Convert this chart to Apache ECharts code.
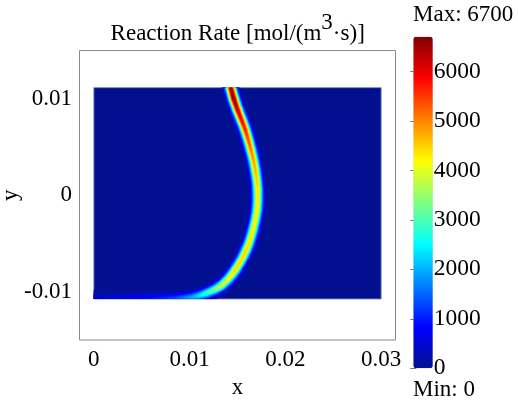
<!DOCTYPE html>
<html><head><meta charset="utf-8">
<script src="https://cdn.jsdelivr.net/npm/echarts@6/dist/echarts.min.js"></script>
<style>html,body{margin:0;padding:0;background:#fff}#c{width:518px;height:402px}</style>
</head><body><div id="c"></div>
<script>
// ---------------- data ----------------
const domainX = [0, 0.03];
const domainY = [-0.01075, 0.01115];
// flame front centre line (top -> bottom, then along the lower wall)
const frontX = [0.01425, 0.01430, 0.01461, 0.01501, 0.01581, 0.01641, 0.01686, 0.01710, 0.01704, 0.01662, 0.01592, 0.01477, 0.01338, 0.01181, 0.01038, 0.0085, 0.0060, 0.0030, 0.0000];
const frontY = [0.0116, 0.01115, 0.0100, 0.00885, 0.00678, 0.00470, 0.00263, 0.00055, -0.00152, -0.00359, -0.00567, -0.00774, -0.00930, -0.01013, -0.01054, -0.0107, -0.0107, -0.0107, -0.0107];
const frontRate = [6500, 6500, 6700, 6300, 5700, 5100, 4700, 4400, 4300, 4300, 4500, 4500, 3900, 2900, 2000, 1300, 900, 600, 400];
const rateRange = [0, 6700];
const xTickValues = [0, 0.01, 0.02, 0.03];
const xTickLabels = ['0', '0.01', '0.02', '0.03'];
const yTickValues = [-0.01, 0, 0.01];
const yTickLabels = ['-0.01', '0', '0.01'];
const cbTickValues = [0, 1000, 2000, 3000, 4000, 5000, 6000];
const titleParts = ['Reaction Rate [mol/(m', '3', '·s)]'];
const axisNames = ['x', 'y'];
const cbTexts = ['Max: ' + rateRange[1], 'Min: ' + rateRange[0]];

// ---------------- styling ----------------
const jetColors = ['#02108f', '#0000ff', '#0080ff', '#00ffff', '#80ff80', '#ffff00', '#ff8000', '#ff0000', '#800000'];
const FONT = 'Liberation Serif';
const SIGMA = 3.5; // px, thickness scale of the flame band
const levels = [0.03, 0.07, 0.12, 0.18, 0.25, 0.32, 0.40, 0.48, 0.56, 0.64, 0.72, 0.80, 0.87, 0.93, 0.98];

function hexToRgb(h) { return [parseInt(h.substr(1, 2), 16), parseInt(h.substr(3, 2), 16), parseInt(h.substr(5, 2), 16)]; }
const jetRgb = jetColors.map(hexToRgb);
function jet(v) {
  let t = (v - rateRange[0]) / (rateRange[1] - rateRange[0]);
  t = Math.max(0, Math.min(1, t));
  const n = jetRgb.length - 1;
  const p = t * n; let i = Math.floor(p); if (i >= n) i = n - 1;
  const u = p - i;
  const a = jetRgb[i], b = jetRgb[i + 1];
  return 'rgb(' + [0, 1, 2].map(k => Math.round(a[k] + (b[k] - a[k]) * u)).join(',') + ')';
}

const frontData = frontX.map((x, i) => [x, frontY[i], frontRate[i]]);

function clipRect(api) {
  const tl = api.coord([domainX[0], domainY[1]]);
  const br = api.coord([domainX[1], domainY[0]]);
  return { x: tl[0], y: tl[1], width: br[0] - tl[0], height: br[1] - tl[1] };
}

function layerSeries(k) {
  const f = levels[k];
  const g = k < levels.length - 1 ? (levels[k] + levels[k + 1]) / 2 : 0.995;
  const w = 2 * SIGMA * Math.sqrt(2 * Math.log(1 / f));
  return {
    type: 'custom', silent: true, animation: false, clip: false,
    xAxisIndex: 0, yAxisIndex: 0,
    encode: { x: 0, y: 1 },
    data: frontData,
    renderItem: function (params, api) {
      const i = params.dataIndexInside;
      const n = params.dataInsideLength;
      if (i >= n - 1) return null;
      const pt = j => api.coord([api.value(0, j), api.value(1, j)]);
      const p1 = pt(i), p2 = pt(i + 1);
      const p0 = i > 0 ? pt(i - 1) : p1;
      const p3 = i + 2 < n ? pt(i + 2) : p2;
      const r1 = api.value(2, i), r2 = api.value(2, i + 1);
      const stops = [0, 0.25, 0.5, 0.75, 1].map(t => ({ offset: t, color: jet((r1 + (r2 - r1) * t) * g) }));
      return {
        type: 'bezierCurve',
        shape: {
          x1: p1[0], y1: p1[1], x2: p2[0], y2: p2[1],
          cpx1: p1[0] + (p2[0] - p0[0]) / 6, cpy1: p1[1] + (p2[1] - p0[1]) / 6,
          cpx2: p2[0] - (p3[0] - p1[0]) / 6, cpy2: p2[1] - (p3[1] - p1[1]) / 6
        },
        style: {
          stroke: { type: 'linear', x: p1[0], y: p1[1], x2: p2[0], y2: p2[1], global: true, colorStops: stops },
          lineWidth: w, lineCap: 'round', fill: null
        },
        clipPath: { type: 'rect', shape: clipRect(api) }
      };
    }
  };
}

const series = [{
  type: 'custom', silent: true, animation: false, clip: false,
  xAxisIndex: 0, yAxisIndex: 0,
  data: [[domainX[0], domainY[1], domainX[1], domainY[0], rateRange[0]]],
  renderItem: function (params, api) {
    const r = clipRect(api);
    return { type: 'rect', shape: r, style: { fill: jet(api.value(4)), stroke: 'rgba(120,135,200,0.9)', lineWidth: 1 } };
  }
}];
for (let k = 0; k < levels.length; k++) series.push(layerSeries(k));

function pickLabel(values, labels) {
  return function (v) {
    for (let i = 0; i < values.length; i++) if (Math.abs(v - values[i]) < 1e-9) return labels[i];
    return '';
  };
}
const labelStyle = { fontFamily: FONT, fontSize: 23, color: '#000' };

const chart = echarts.init(document.getElementById('c'), null, { renderer: 'canvas' });
chart.setOption({
  animation: false,
  backgroundColor: '#fff',
  grid: [
    { left: 79.5, top: 50.5, width: 316, height: 289.5, show: true, borderColor: '#8a8a8a', borderWidth: 1, backgroundColor: '#fff', containLabel: false, outerBoundsMode: 'none' },
    { left: 413.3, top: 36.7, width: 19.5, height: 331.6, show: false, containLabel: false, outerBoundsMode: 'none' }
  ],
  xAxis: [
    { type: 'value', gridIndex: 0, min: -0.0015, max: 0.0315,
      axisLine: { show: false }, axisTick: { show: false }, splitLine: { show: false },
      axisLabel: Object.assign({ margin: 8, customValues: xTickValues, formatter: pickLabel(xTickValues, xTickLabels) }, labelStyle),
      name: axisNames[0], nameLocation: 'middle', nameGap: 36, nameMoveOverlap: false, nameTextStyle: labelStyle },
    { type: 'value', gridIndex: 1, show: false, min: 0, max: 1 }
  ],
  yAxis: [
    { type: 'value', gridIndex: 0, min: -0.015, max: 0.015,
      axisLine: { show: false }, axisTick: { show: false }, splitLine: { show: false },
      axisLabel: Object.assign({ margin: 7.5, customValues: yTickValues, formatter: pickLabel(yTickValues, yTickLabels) }, labelStyle),
      name: axisNames[1], nameLocation: 'middle', nameGap: 57, nameMoveOverlap: false, nameTextStyle: labelStyle },
    { type: 'value', gridIndex: 1, position: 'right', min: rateRange[0], max: rateRange[1],
      axisLine: { show: false }, splitLine: { show: false },
      axisTick: { show: true, inside: true, length: 3, customValues: cbTickValues, lineStyle: { color: 'rgba(0,0,0,0.55)', width: 1 } },
      axisLabel: Object.assign({ margin: 1, customValues: cbTickValues, formatter: pickLabel(cbTickValues, cbTickValues.map(String)) }, labelStyle, { fontSize: 23.5 }) },
    { type: 'value', gridIndex: 1, position: 'left', min: rateRange[0], max: rateRange[1],
      axisLine: { show: false }, splitLine: { show: false }, axisLabel: { show: false },
      axisTick: { show: true, inside: true, length: 3, customValues: cbTickValues, lineStyle: { color: 'rgba(0,0,0,0.55)', width: 1 } } }
  ],
  visualMap: {
    type: 'continuous', min: rateRange[0], max: rateRange[1], orient: 'vertical',
    left: 413.3, top: 36.7, itemWidth: 19.5, itemHeight: 331.6, padding: 0,
    calculable: false, hoverLink: false, showLabel: false, text: null,
    inRange: { color: jetColors }, seriesIndex: 0
  },
  graphic: [
    { type: 'text', x: 237.7, y: 22.5, silent: true,
      style: { text: '{a|' + titleParts[0] + '}{s|' + titleParts[1] + '}{a|' + titleParts[2] + '}', align: 'center', verticalAlign: 'top',
        rich: { a: { fontFamily: FONT, fontSize: 23, lineHeight: 23, fill: '#000' },
                s: { fontFamily: FONT, fontSize: 23, lineHeight: 23, fill: '#000', padding: [0, 0, 22, 0] } } } },
    { type: 'text', x: 413, y: 3, silent: true, style: { text: cbTexts[0], font: '23px "' + FONT + '"', fill: '#000', verticalAlign: 'top' } },
    { type: 'text', x: 413, y: 378, silent: true, style: { text: cbTexts[1], font: '23px "' + FONT + '"', fill: '#000', verticalAlign: 'top' } }
  ],
  series: series
});
</script></body></html>
